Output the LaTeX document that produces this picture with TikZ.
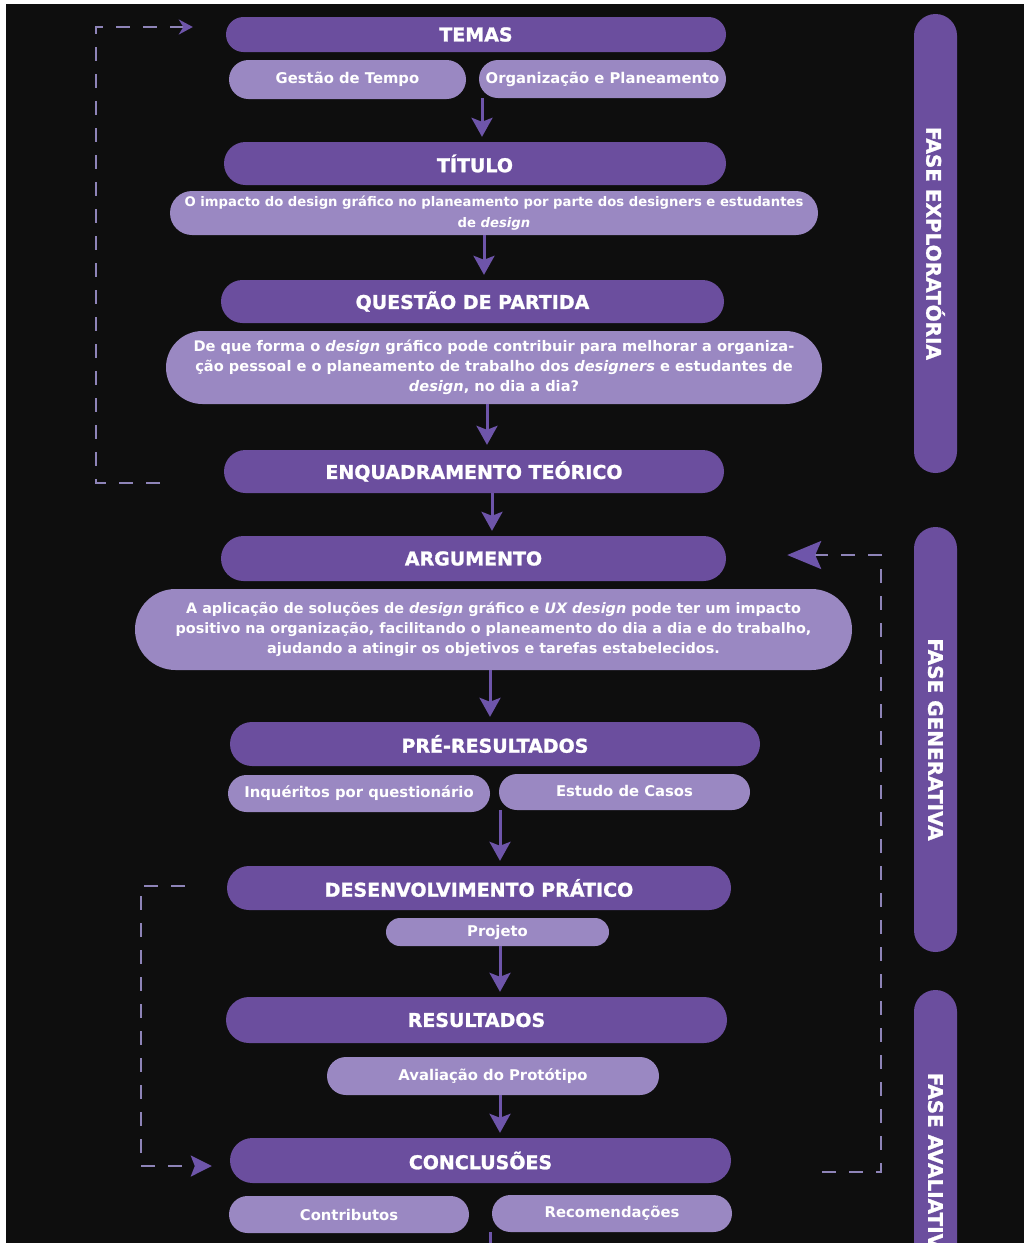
\documentclass[tikz,border=0pt]{standalone}
\usepackage{fontspec}
\setmainfont{DejaVu Sans}
\newfontfamily\heavyfont{DejaVu Sans}[BoldFont={* Bold}, BoldFeatures={FakeBold=1.3}]
\usetikzlibrary{positioning}
\usetikzlibrary{calc}
\usetikzlibrary{arrows.meta}
\usetikzlibrary{shapes.misc}
\definecolor{barPurple}{HTML}{6B4E9E}
\definecolor{boxLilac}{HTML}{9A88C2}
\definecolor{loopGrey}{HTML}{8E84B8}
\definecolor{arrowPurple}{HTML}{6E55AA}
\definecolor{bgBlack}{HTML}{0E0E0E}

\begin{document}
\begin{tikzpicture}[x=1pt, y=-1pt,
        TITLEBAR/.style={rounded rectangle, fill=barPurple, text=white, inner sep=0pt, font=\heavyfont\bfseries\fontsize{19}{22}\selectfont},
        SUBBOX/.style={rounded rectangle, fill=boxLilac, text=white, inner sep=0pt, align=center, font=\bfseries\fontsize{14.8}{20}\selectfont},
        PHASEBAR/.style={rounded rectangle, fill=barPurple, text=white, inner sep=0pt, minimum height=43pt, rotate=-90, font=\heavyfont\bfseries\fontsize{20}{24}\selectfont},
        FLOW/.style={draw=arrowPurple, line width=3pt, -{Stealth[length=19pt, width=21pt, inset=4pt]}, shorten >=5pt},
        LOOPBACK/.style={draw=loopGrey, line width=2.5pt, dash pattern=on 14pt off 13pt},
        ]
            \useasboundingbox (0,0) rectangle (1024,1243);
            \clip (0,0) rectangle (1024,1243);
            \fill[white] (0,0) rectangle (1024,1243);
            \fill[bgBlack] (6,4) rectangle (1024,1243);

            % phases
            \node[PHASEBAR, minimum width=459pt] (phaseExp) at (935.5,243.5) {FASE EXPLORATÓRIA};
            \node[PHASEBAR, minimum width=425pt] (phaseGen) at (935.5,739.5) {FASE GENERATIVA};
            \node[PHASEBAR, minimum width=356pt] (phaseAva) at (935.5,1168) {FASE AVALIATIVA};

            \node[TITLEBAR, minimum width=500pt, minimum height=35pt] (temas) at (476,34.5) {TEMAS};
            \node[SUBBOX, minimum width=237pt, minimum height=39pt] (gestao) at (347.5,79.5) {Gestão de Tempo};
            \node[SUBBOX, minimum width=247pt, minimum height=38pt] (organiz) at (602.5,79) {Organização e Planeamento};

            \node[TITLEBAR, minimum width=502pt, minimum height=43pt] (titulo) at (475,163.5) {TÍTULO};
            \node[SUBBOX, minimum width=648pt, minimum height=44pt, font=\bfseries\fontsize{13.2}{21}\selectfont] (tittext) at (494,213)
                {O impacto do design gráfico no planeamento por parte dos designers e estudantes\\
                 de \textit{design}};

            \node[TITLEBAR, minimum width=503pt, minimum height=43pt] (questao) at (472.5,301.5) {QUESTÃO DE PARTIDA};
            \node[SUBBOX, minimum width=656pt, minimum height=73pt, font=\bfseries\fontsize{14.6}{20}\selectfont] (questext) at (494,367.5)
                {De que forma o \textit{design} gráfico pode contribuir para melhorar a organiza-\\
                 ção pessoal e o planeamento de trabalho dos \textit{designers} e estudantes de\\
                 \textit{design}, no dia a dia?};

            \node[TITLEBAR, minimum width=500pt, minimum height=43pt] (enq) at (474,471.5) {ENQUADRAMENTO TEÓRICO};

            \node[TITLEBAR, minimum width=505pt, minimum height=45pt] (arg) at (473.5,558.5) {ARGUMENTO};
            \node[SUBBOX, minimum width=717pt, minimum height=81pt, font=\bfseries\fontsize{14.4}{20}\selectfont] (argtext) at (493.5,629.5)
                {A aplicação de soluções de \textit{design} gráfico e \textit{UX design} pode ter um impacto\\
                 positivo na organização, facilitando o planeamento do dia a dia e do trabalho,\\
                 ajudando a atingir os objetivos e tarefas estabelecidos.};

            \node[TITLEBAR, minimum width=530pt, minimum height=44pt] (preres) at (495,744) {PRÉ-RESULTADOS};
            \node[SUBBOX, minimum width=262pt, minimum height=37pt] (inq) at (359,793.5) {Inquéritos por questionário};
            \node[SUBBOX, minimum width=251pt, minimum height=36pt] (estudo) at (624.5,792) {\raisebox{3pt}{Estudo de Casos}};

            \node[TITLEBAR, minimum width=504pt, minimum height=44pt] (desenv) at (479,888) {DESENVOLVIMENTO PRÁTICO};
            \node[SUBBOX, minimum width=223pt, minimum height=28pt] (projeto) at (497.5,932) {Projeto};

            \node[TITLEBAR, minimum width=501pt, minimum height=46pt] (result) at (476.5,1020) {RESULTADOS};
            \node[SUBBOX, minimum width=332pt, minimum height=38pt] (aval) at (493,1076) {Avaliação do Protótipo};

            \node[TITLEBAR, minimum width=501pt, minimum height=45pt] (concl) at (480.5,1160.5) {CONCLUSÕES};
            \node[SUBBOX, minimum width=240pt, minimum height=37pt] (contrib) at (349,1214.5) {Contributos};
            \node[SUBBOX, minimum width=240pt, minimum height=37pt] (recom) at (612,1213.5) {Recomendações};

            % main flow
            \draw[FLOW] (organiz.south -| 482,0) -- (titulo.north -| 482,0);
            \draw[FLOW] (tittext.south -| 484,0) -- (questao.north -| 484,0);
            \draw[FLOW] (questext.south -| 487,0) -- (enq.north -| 487,0);
            \draw[FLOW] (enq.south -| 492,0) -- (arg.north -| 492,0);
            \draw[FLOW] (argtext.south -| 490,0) -- (preres.north -| 490,0);
            \draw[FLOW] (estudo.south -| 500,0) -- (desenv.north -| 500,0);
            \draw[FLOW] (projeto.south -| 500,0) -- (result.north -| 500,0);
            \draw[FLOW] (aval.south -| 500,0) -- (concl.north -| 500,0);
            \coordinate (exitDown) at (490,1275);
            \draw[FLOW] (recom.south -| 490,0) -- (exitDown);

            % feedback loops
            \coordinate (enqLoop) at ($(enq.west)+(-64,11.5)$);
            \coordinate (temasLoop) at ($(temas.west)+(-33,-7.5)$);
            \draw[LOOPBACK, -{Stealth[length=14pt, width=15pt, color=arrowPurple]}] (enqLoop) -| (96,27) -- (temasLoop);

            \coordinate (conclLoop) at ($(concl.east)+(91,11.5)$);
            \coordinate (argLoop) at ($(arg.east)+(61,-3.5)$);
            \draw[LOOPBACK, -{Stealth[length=34pt, width=28pt, inset=6pt, color=arrowPurple]}] (conclLoop) -| (881,555) -- (argLoop);

            \coordinate (desLoop) at ($(desenv.west)+(-42,-2)$);
            \coordinate (conLoop) at ($(concl.west)+(-18,5.5)$);
            \draw[LOOPBACK, -{Stealth[length=21pt, width=21pt, inset=4pt, color=arrowPurple]}] (desLoop) -| (141,1166) -- (conLoop);
        \end{tikzpicture}
\end{document}
